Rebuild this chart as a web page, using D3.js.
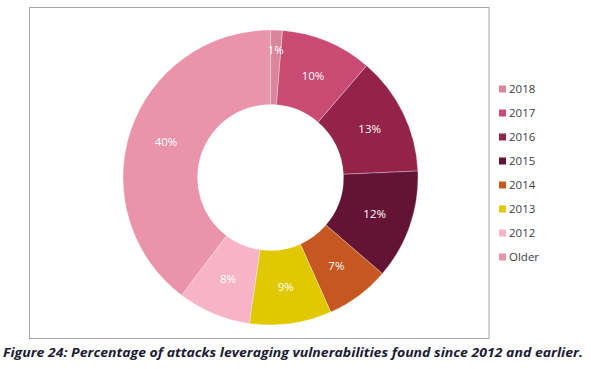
<!DOCTYPE html>
<html><head><meta charset="utf-8">
<script src="https://cdn.jsdelivr.net/npm/d3@7"></script>
<style>body{margin:0;background:#fff;}svg{display:block;}</style>
</head><body>
<svg id="c" width="591" height="369"></svg>
<script>
const categories = ["2018","2017","2016","2015","2014","2013","2012","Older"];
const values = [1.3, 10, 13, 12, 7, 9, 8, 39.7];
const labels = ["1%","10%","13%","12%","7%","9%","8%","40%"];
const colors = ["#D9869C","#C94B74","#942349","#651334","#C75720","#E0C900","#F6B4C6","#EA94AB"];
const caption = "Figure 24: Percentage of attacks leveraging vulnerabilities found since 2012 and earlier.";

const svg = d3.select("#c");
svg.append("rect").attr("x",29.5).attr("y",7.5).attr("width",459.5).attr("height",331)
  .attr("fill","#fff").attr("stroke","#A6A6A6").attr("stroke-width",1);

const cx = 270.5, cy = 177.5, rO = 147.5, rI = 73;
const pie = d3.pie().sort(null).value(d=>d)(values);
const arc = d3.arc().innerRadius(rI).outerRadius(rO);
const smallArc = d3.arc().innerRadius(128).outerRadius(128);
const g = svg.append("g").attr("transform",`translate(${cx},${cy})`);
g.selectAll("path").data(pie).join("path")
  .attr("d",arc).attr("fill",(d,i)=>colors[i])
  .attr("stroke","rgba(255,255,255,0.5)").attr("stroke-width",0.6);
g.selectAll("text").data(pie).join("text")
  .attr("transform",d=>`translate(${(d.value<3?smallArc:arc).centroid(d)})`)
  .attr("text-anchor","middle").attr("dy","0.35em")
  .attr("fill","#fff").attr("font-family","'Open Sans', sans-serif").attr("font-size",11.5)
  .text((d,i)=>labels[i]);

const y = d3.scalePoint().domain(categories).range([89,257]);
const lg = svg.append("g");
categories.forEach((c,i)=>{
  lg.append("rect").attr("x",499).attr("y",y(c)-3.5).attr("width",7).attr("height",7).attr("fill",colors[i]);
  lg.append("text").attr("x",509).attr("y",y(c)).attr("dy","0.35em")
    .attr("fill","#404040").attr("font-family","'Open Sans', sans-serif").attr("font-size",11.5).text(c);
});

svg.append("text").attr("x",3).attr("y",357)
  .attr("font-family","'Open Sans', sans-serif").attr("font-weight","bold").attr("font-style","italic")
  .attr("font-size",13).attr("fill","#1B1B33")
  .attr("textLength",580).attr("lengthAdjust","spacingAndGlyphs").text(caption);
</script>
</body></html>
